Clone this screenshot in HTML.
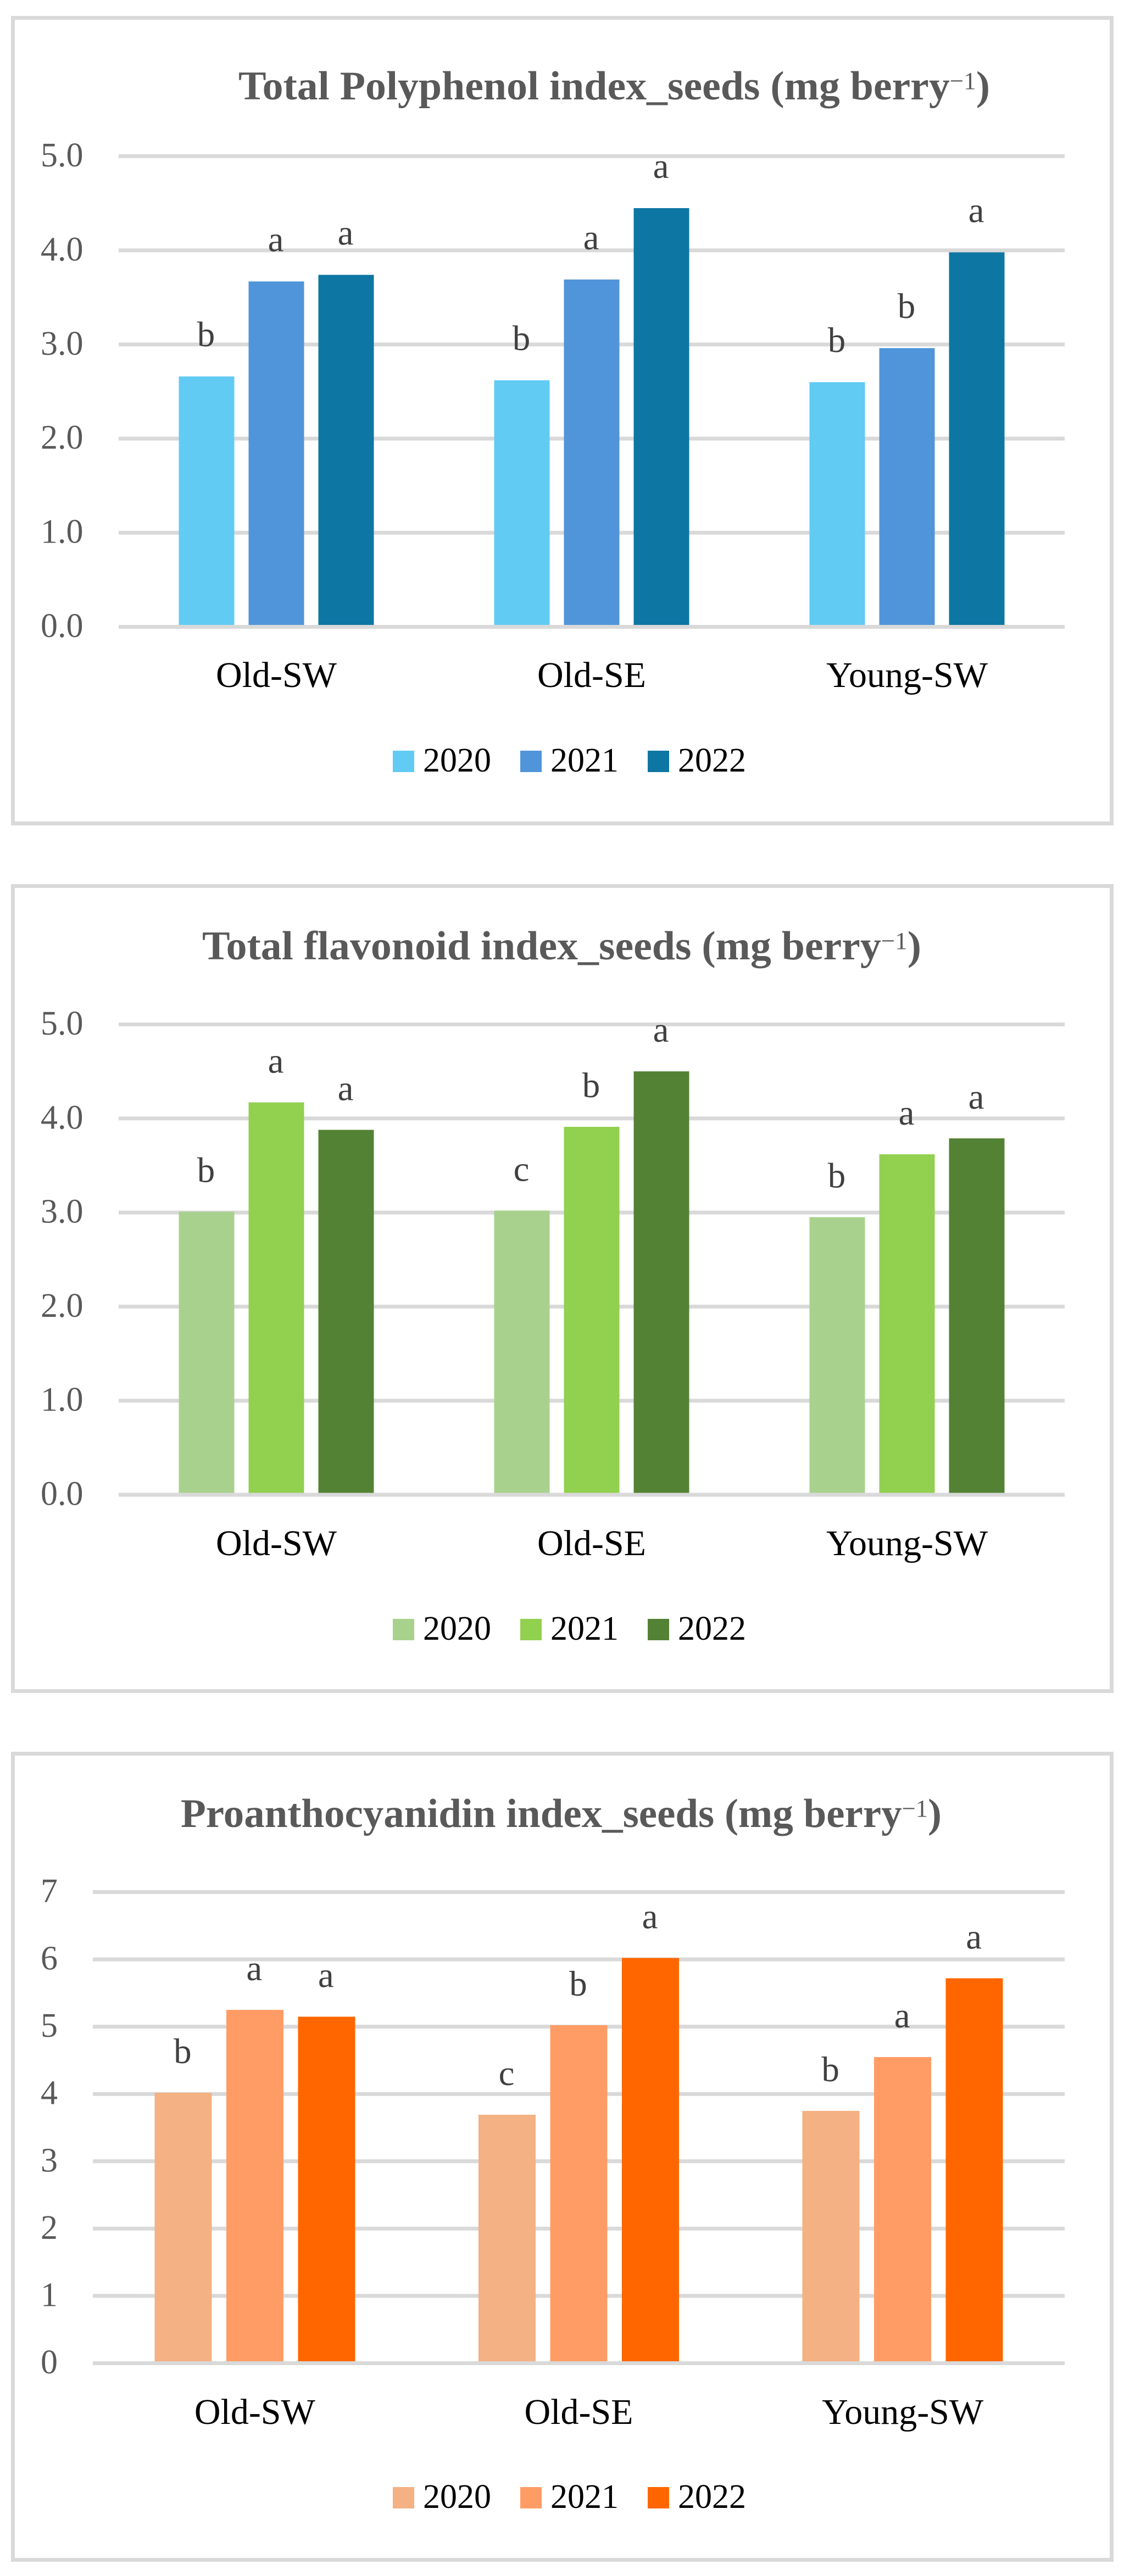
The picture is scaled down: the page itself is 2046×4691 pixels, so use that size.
<!DOCTYPE html>
<html lang="en">
<head>
<meta charset="utf-8">
<title>Seed index charts</title>
<style>
  html, body { margin: 0; padding: 0; background: #fff; }
  svg { display: block; font-family: "Liberation Serif", serif; }
  .title { font-weight: bold; font-size: 74px; fill: #595959; }
  .title .sup { font-weight: normal; font-size: 44px; }
  .tick { font-size: 62px; fill: #595959; }
  .cat { font-size: 66px; fill: #000; text-anchor: middle; }
  .leg { font-size: 62px; fill: #000; }
  .sig { font-size: 65px; fill: #404040; text-anchor: middle; }
</style>
</head>
<body>
<svg id="figure" xmlns="http://www.w3.org/2000/svg" width="2046" height="4691" viewBox="0 0 2046 4691">
  <rect x="0" y="0" width="2046" height="4691" fill="#ffffff"/>
  <g id="chart-a">
    <rect x="23.5" y="32.5" width="2000" height="1467" fill="#ffffff" stroke="#d9d9d9" stroke-width="7"/>
    <text class="title" x="434" y="181" textLength="1368" lengthAdjust="spacingAndGlyphs">Total Polyphenol index_seeds (mg berry<tspan class="sup" dy="-19">−1</tspan><tspan dy="19">)</tspan></text>
  </g>
  <g id="chart-b">
    <rect x="23.5" y="1613.5" width="2000" height="1466" fill="#ffffff" stroke="#d9d9d9" stroke-width="7"/>
    <text class="title" x="368" y="1747" textLength="1309" lengthAdjust="spacingAndGlyphs">Total flavonoid index_seeds (mg berry<tspan class="sup" dy="-19">−1</tspan><tspan dy="19">)</tspan></text>
  </g>
  <g id="chart-c">
    <rect x="23.5" y="3193.5" width="2000" height="1468" fill="#ffffff" stroke="#d9d9d9" stroke-width="7"/>
    <text class="title" x="329" y="3327" textLength="1385" lengthAdjust="spacingAndGlyphs">Proanthocyanidin index_seeds (mg berry<tspan class="sup" dy="-19">−1</tspan><tspan dy="19">)</tspan></text>
  </g>
</svg>
<script>
// Shared categories and legend labels
const categories = ["Old-SW", "Old-SE", "Young-SW"];
const years = ["2020", "2021", "2022"];

// Chart A: total polyphenol index
const polyphenolTicks = ["0.0", "1.0", "2.0", "3.0", "4.0", "5.0"];
const polyphenol2020 = [2.66, 2.62, 2.60];
const polyphenol2021 = [3.67, 3.69, 2.96];
const polyphenol2022 = [3.74, 4.45, 3.98];
const polyphenolLetters2020 = ["b", "b", "b"];
const polyphenolLetters2021 = ["a", "a", "b"];
const polyphenolLetters2022 = ["a", "a", "a"];

// Chart B: total flavonoid index
const flavonoidTicks = ["0.0", "1.0", "2.0", "3.0", "4.0", "5.0"];
const flavonoid2020 = [3.01, 3.02, 2.95];
const flavonoid2021 = [4.17, 3.91, 3.62];
const flavonoid2022 = [3.88, 4.50, 3.79];
const flavonoidLetters2020 = ["b", "c", "b"];
const flavonoidLetters2021 = ["a", "b", "a"];
const flavonoidLetters2022 = ["a", "a", "a"];

// Chart C: proanthocyanidin index
const proanthoTicks = ["0", "1", "2", "3", "4", "5", "6", "7"];
const proantho2020 = [4.02, 3.69, 3.75];
const proantho2021 = [5.25, 5.02, 4.55];
const proantho2022 = [5.15, 6.02, 5.72];
const proanthoLetters2020 = ["b", "c", "b"];
const proanthoLetters2021 = ["a", "b", "a"];
const proanthoLetters2022 = ["a", "a", "a"];

const SVG_NS = "http://www.w3.org/2000/svg";
const GRID_COLOR = "#d9d9d9";

function makeEl(tag, parent, attrs, text) {
  const el = document.createElementNS(SVG_NS, tag);
  for (const key in attrs) el.setAttribute(key, attrs[key]);
  if (text !== undefined) el.textContent = text;
  parent.appendChild(el);
  return el;
}

function drawChart(cfg) {
  const group = document.getElementById(cfg.id);
  const yMax = Number(cfg.ticks[cfg.ticks.length - 1]);
  const y = function (v) { return cfg.y0 - (v / yMax) * (cfg.y0 - cfg.yTop); };
  const band = (cfg.right - cfg.left) / categories.length;
  const catCenter = function (i) { return cfg.left + band * (i + 0.5); };

  // gridlines and tick labels
  cfg.ticks.forEach(function (label) {
    const v = Number(label);
    if (v !== 0) {
      const grid = makeEl("line", group, { x1: cfg.left, x2: cfg.right, y1: y(v), y2: y(v), stroke: GRID_COLOR, "stroke-width": 7 });
      
      
    }
    const tick = makeEl("text", group, { class: "tick", x: 74, y: y(v) + 18.5 }, label);
    
    
  });

  // bars and significance letters
  cfg.series.forEach(function (values, s) {
    values.forEach(function (v, i) {
      const cx = catCenter(i) + (s - 1) * cfg.barPitch;
      const top = y(v);
      const bar = makeEl("rect", group, { x: cx - cfg.barWidth / 2, y: top, width: cfg.barWidth, height: cfg.y0 - top, fill: cfg.colors[s], "shape-rendering": "crispEdges" });
      
      
      const letter = makeEl("text", group, { class: "sig", x: cx - 1, y: top - cfg.letterGap }, cfg.letters[s][i]);
      
      
    });
  });

  // zero axis line sits on top of the bar bases
  const axis = makeEl("line", group, { x1: cfg.left, x2: cfg.right, y1: y(0), y2: y(0), stroke: GRID_COLOR, "stroke-width": 7 });
  
  

  // category labels
  categories.forEach(function (name, i) {
    const cat = makeEl("text", group, { class: "cat", x: catCenter(i), y: cfg.catY }, name);
    
    
  });

  // legend
  years.forEach(function (year, s) {
    const sx = 715 + s * 232;
    const swatch = makeEl("rect", group, { x: sx, y: cfg.legendY, width: 39, height: 39, fill: cfg.colors[s], "shape-rendering": "crispEdges" });
    
    
    const label = makeEl("text", group, { class: "leg", x: sx + 55, y: cfg.legendY + 38 }, year);
    
    
  });
}

drawChart({
  id: "chart-a", ticks: polyphenolTicks,
  series: [polyphenol2020, polyphenol2021, polyphenol2022],
  letters: [polyphenolLetters2020, polyphenolLetters2021, polyphenolLetters2022],
  colors: ["#61cbf4", "#5095d9", "#0e76a3"],
  left: 216, right: 1938, y0: 1141.5, yTop: 284.5,
  barWidth: 101, barPitch: 127, letterGap: 55, catY: 1251, legendY: 1367
});
drawChart({
  id: "chart-b", ticks: flavonoidTicks,
  series: [flavonoid2020, flavonoid2021, flavonoid2022],
  letters: [flavonoidLetters2020, flavonoidLetters2021, flavonoidLetters2022],
  colors: ["#a9d18e", "#92d050", "#548235"],
  left: 216, right: 1938, y0: 2722, yTop: 1865.5,
  barWidth: 101, barPitch: 127, letterGap: 54, catY: 2832, legendY: 2948
});
drawChart({
  id: "chart-c", ticks: proanthoTicks,
  series: [proantho2020, proantho2021, proantho2022],
  letters: [proanthoLetters2020, proanthoLetters2021, proanthoLetters2022],
  colors: ["#f4b183", "#ff9c66", "#ff6600"],
  left: 169, right: 1938, y0: 4303.5, yTop: 3445.5,
  barWidth: 104, barPitch: 130.5, letterGap: 54, catY: 4414, legendY: 4529
});
</script>
</body>
</html>
